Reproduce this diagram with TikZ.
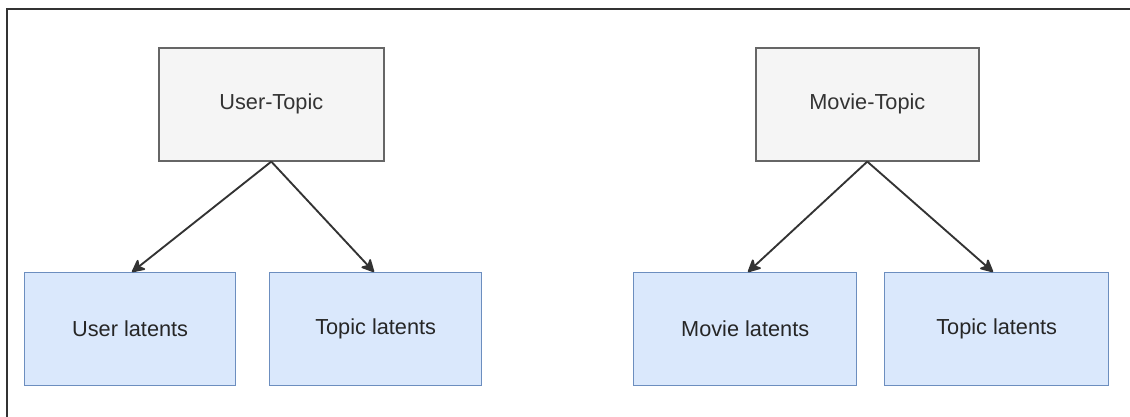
\documentclass[tikz,border=0pt]{standalone}
\usepackage{fontspec}
\setmainfont{Liberation Sans}
\usetikzlibrary{arrows.meta}
\definecolor{greyfill}{HTML}{F5F5F5}
\definecolor{greyline}{HTML}{666666}
\definecolor{greytext}{HTML}{333333}
\definecolor{bluefill}{HTML}{DAE8FC}
\definecolor{blueline}{HTML}{6C8EBF}
\definecolor{arrowcol}{HTML}{333333}
\tikzset{
  topicbox/.style={draw=greyline, fill=greyfill, line width=1.2pt, text=greytext,
    anchor=north west, inner sep=0pt, font=\fontsize{16.3}{18}\selectfont},
  latentbox/.style={draw=blueline, fill=bluefill, line width=1.0pt, text=black!85,
    anchor=north west, inner sep=0pt, font=\fontsize{16.3}{18}\selectfont},
  link/.style={draw=arrowcol, line width=1.4pt,
    -{Stealth[length=11pt,width=11pt,inset=3pt,round]}},
  frame/.style={draw=black!80, line width=1.5pt}
}
\begin{document}
\begin{tikzpicture}[x=0.75pt,y=-0.75pt]
  \useasboundingbox (0,0) rectangle (1130,417);
  \fill[white] (0,0) rectangle (1130,417);
  % outer frame (left and top edges)
  \coordinate (fbl) at (7,417);
  \coordinate (ftl) at (7,9);
  \coordinate (ftr) at (1130,9);
  \draw[frame] (fbl) -- (ftl) -- (ftr);

  % parent boxes
  \node[topicbox, minimum width=225*0.75pt, minimum height=113*0.75pt] (ut) at (158,47) {User-Topic};
  \node[topicbox, minimum width=223*0.75pt, minimum height=113*0.75pt] (mt) at (755,47) {Movie-Topic};

  % latent boxes
  \node[latentbox, minimum width=211*0.75pt, minimum height=113*0.75pt] (ul) at (24,272) {User latents};
  \node[latentbox, minimum width=212*0.75pt, minimum height=113*0.75pt] (tl1) at (269,272) {Topic latents};
  \node[latentbox, minimum width=223*0.75pt, minimum height=113*0.75pt] (ml) at (633,272) {Movie latents};
  \node[latentbox, minimum width=224*0.75pt, minimum height=113*0.75pt] (tl2) at (884,272) {Topic latents};

  % connectors
  \draw[link] (ut.south) -- (ul.north -| 132,0);
  \draw[link] (ut.south) -- (tl1.north -| 374,0);
  \draw[link] (mt.south) -- (ml.north -| 748,0);
  \draw[link] (mt.south) -- (tl2.north -| 993,0);
\end{tikzpicture}
\end{document}
